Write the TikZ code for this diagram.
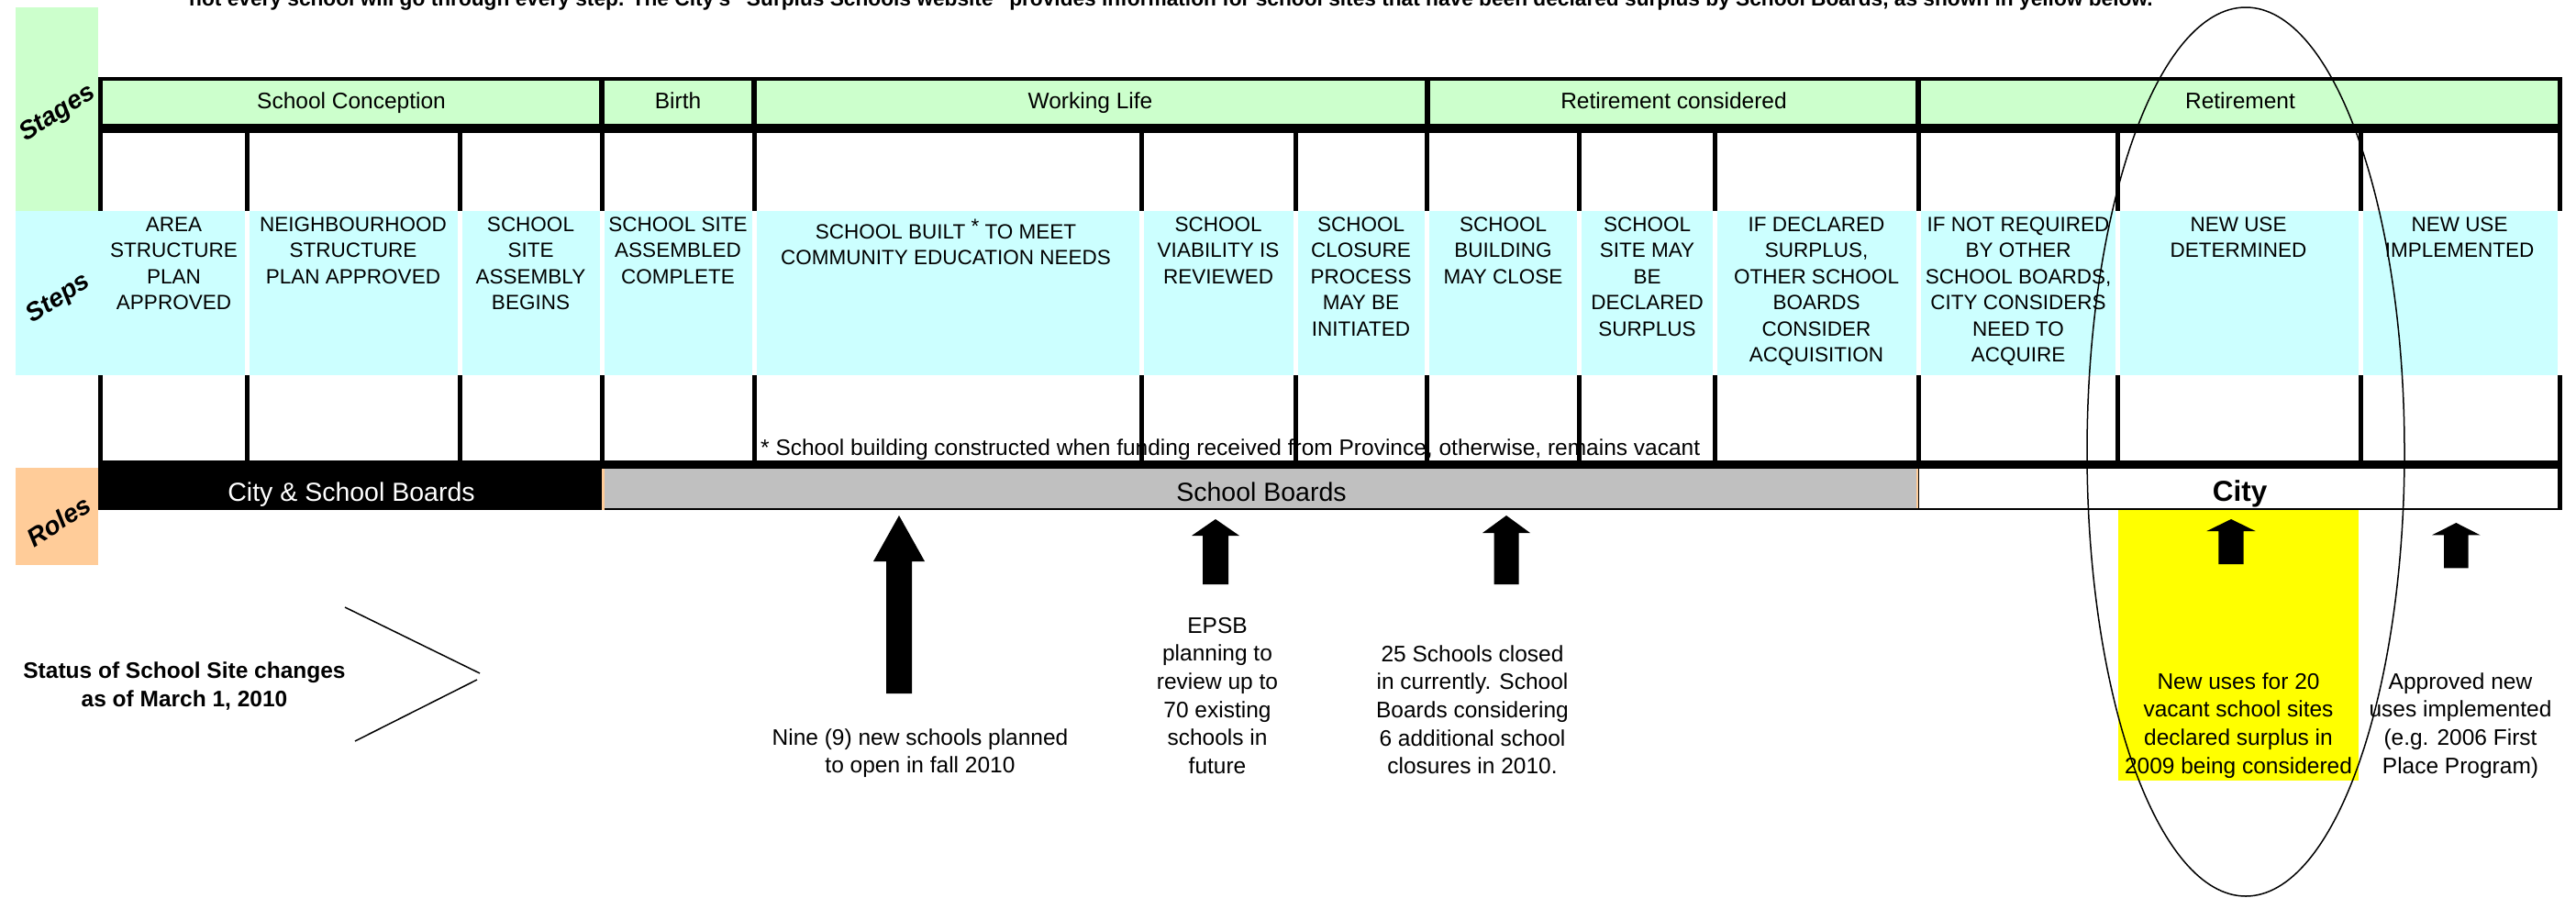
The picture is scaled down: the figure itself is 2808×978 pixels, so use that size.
\documentclass[tikz,border=0pt]{standalone}
\usepackage{fontspec}
\setmainfont{Liberation Sans}
\definecolor{stagegreen}{HTML}{CCFFCC}
\definecolor{stepcyan}{HTML}{CCFFFF}
\definecolor{rolepeach}{HTML}{FFCC99}
\definecolor{rolegrey}{HTML}{C0C0C0}
\definecolor{hiyellow}{HTML}{FFFF00}
\newcommand{\fsz}[2]{\fontsize{#1}{#2}\selectfont}
\newcommand{\blockup}[6]{%
  \fill[black] (#1,#2) -- (#1+#5,#3) -- (#1+#6,#3) -- (#1+#6,#4)
    -- (#1-#6,#4) -- (#1-#6,#3) -- (#1-#5,#3) -- cycle;}
\newcommand{\strt}{\rule{0pt}{20pt}}
\begin{document}
\begin{tikzpicture}[x=1pt,y=-1pt,
  blk/.style={fill=black,draw=none},
  stagetext/.style={font={\fsz{24.5}{29}}, inner sep=0pt, anchor=base},
  steptext/.style={font={\fsz{22.5}{28.5}}, align=center, anchor=north, inner sep=0pt},
  roletext/.style={font={\fsz{28.5}{32}}, inner sep=0pt, anchor=base},
  notetext/.style={font={\fsz{24.5}{30.6}}, align=center, anchor=north, inner sep=0pt},
  sidelabel/.style={font={\fsz{28}{32}\bfseries\itshape}, rotate=33, inner sep=0pt},
  thinline/.style={line width=1.5pt, black},
]
\useasboundingbox (0,0) rectangle (2808,978);
\fill[white] (0,0) rectangle (2808,978);

% intro line (cut off at top)
\node[anchor=base west, inner sep=0pt] (intro) at (206,6.5)
  {\resizebox{2140pt}{!}{\bfseries not every school will go through every step.  The City's "Surplus Schools website" provides information for school sites that have been declared surplus by School Boards, as shown in yellow below.}};

% side label boxes and bands
\fill[stagegreen] (17,8) rectangle (107,230);
\fill[stepcyan] (17,230) rectangle (2787.5,409);
\fill[rolepeach] (17,510) rectangle (107,616);
\fill[stagegreen] (112,87.5) rectangle (2787.5,135);

% white gaps between step cells
\foreach \c in {269,501,656,822,1244,1412,1555.5,1721.5,1869.5,2091,2308,2573}
  \fill[white] (\c-2.5,230) rectangle (\c+2.5,409);

% footnote (under the dividers)
\node[anchor=base west, inner sep=0pt, font={\fsz{24.5}{29}}] (fnote) at (829,496)
  {* School building constructed when funding received from Province, otherwise, remains vacant};

% table frame
\fill[blk] (107,83.5) rectangle (2792.5,87.5);
\fill[blk] (107,135) rectangle (2792.5,145);
\fill[blk] (107,502) rectangle (2792.5,510.5);
\fill[blk] (107,83.5) rectangle (112,230);
\fill[blk] (107,409) rectangle (112,510);
\fill[blk] (2787.5,83.5) rectangle (2792.5,230);
\fill[blk] (2787.5,409) rectangle (2792.5,556);
\foreach \c in {656,822,1555.5,2091}
  \fill[blk] (\c-3,84) rectangle (\c+3,145);
\foreach \c in {269,501,656,822,1244,1412,1555.5,1721.5,1869.5,2091,2308,2573}{
  \fill[blk] (\c-2.5,145) rectangle (\c+2.5,230);
  \fill[blk] (\c-2.5,409) rectangle (\c+2.5,502);
}

% roles row
\fill[black] (107,510) rectangle (655.5,556);
\fill[rolepeach] (655.5,510.5) rectangle (658.5,556);
\fill[rolegrey] (658.5,510.5) rectangle (2088.5,554);
\fill[rolepeach] (2088.5,510.5) rectangle (2090.5,556);
\fill[black] (2090.5,510.5) rectangle (2092,556);
\fill[black] (658.5,554) rectangle (2792.5,556);

% yellow highlight
\fill[hiyellow] (2309,556) rectangle (2571,851);

% side labels
\node[sidelabel] (lblstages) at (63,124) {Stages};
\node[sidelabel] (lblsteps) at (64,326) {Steps};
\node[sidelabel] (lblroles) at (64,568) {Roles};

% stages
\node[stagetext] (stconc) at (383,118.5) {School Conception};
\node[stagetext] (stbirth) at (739,118.5) {Birth};
\node[stagetext] (stwork) at (1188.5,118.5) {Working Life};
\node[stagetext] (stretc) at (1824.5,118.5) {Retirement considered};
\node[stagetext] (stret) at (2442,118.5) {Retirement};

% steps
\node[steptext] (s1) at (189.5,232) {\strt AREA\\STRUCTURE\\PLAN\\APPROVED};
\node[steptext] (s2) at (385,232) {\strt NEIGHBOURHOOD\\STRUCTURE\\PLAN APPROVED};
\node[steptext] (s3) at (578.5,232) {\strt SCHOOL\\SITE\\ASSEMBLY\\BEGINS};
\node[steptext] (s4) at (739,232) {\strt SCHOOL SITE\\ASSEMBLED\\COMPLETE};
\node[steptext] (s5) at (1031,238.5) {\strt SCHOOL BUILT \raisebox{6pt}{*} TO MEET\\COMMUNITY EDUCATION NEEDS};
\node[steptext] (s6) at (1328,232) {\strt SCHOOL\\VIABILITY IS\\REVIEWED};
\node[steptext] (s7) at (1483.5,232) {\strt SCHOOL\\CLOSURE\\PROCESS\\MAY BE\\INITIATED};
\node[steptext] (s8) at (1638.5,232) {\strt SCHOOL\\BUILDING\\MAY CLOSE};
\node[steptext] (s9) at (1795.5,232) {\strt SCHOOL\\SITE MAY\\BE\\DECLARED\\SURPLUS};
\node[steptext] (s10) at (1980,232) {\strt IF DECLARED\\SURPLUS,\\OTHER SCHOOL\\BOARDS\\CONSIDER\\ACQUISITION};
\node[steptext] (s11) at (2200,232) {\strt IF NOT REQUIRED\\BY OTHER\\SCHOOL BOARDS,\\CITY CONSIDERS\\NEED TO\\ACQUIRE};
\node[steptext] (s12) at (2440,232) {\strt NEW USE\\DETERMINED};
\node[steptext] (s13) at (2681,232) {\strt NEW USE\\IMPLEMENTED};

% roles
\node[roletext, text=white] (rcsb) at (383,546.5) {City \& School Boards};
\node[roletext] (rsb) at (1375,546.5) {School Boards};
\node[roletext, font={\fsz{31.5}{34}\bfseries}] (rcity) at (2441.5,546) {City};

% arrows
\blockup{980}{562}{612}{756}{28}{14}
\blockup{1325}{566}{584}{637}{26}{14}
\blockup{1642}{562}{581}{637}{26}{13.5}
\blockup{2432}{566}{579}{615}{26.6}{13.7}
\blockup{2677.3}{570}{583.3}{619.3}{26.2}{13.3}

% notes
\node[notetext, font={\fsz{24.5}{31}\bfseries}] (status) at (201,719) {\strt Status of School Site changes\\as of March 1, 2010};
\coordinate (chevA) at (376,662);
\coordinate (chevB) at (523,734);
\coordinate (chevC) at (520,741);
\coordinate (chevD) at (387,808);
\draw[thinline] (chevA) -- (chevB);
\draw[thinline] (chevC) -- (chevD);
\node[notetext] (n1) at (1003,792) {\strt Nine (9) new schools planned\\to open in fall 2010};
\node[notetext] (n2) at (1327,670) {\strt EPSB\\planning to\\review up to\\70 existing\\schools in\\future};
\node[notetext] (n3) at (1605,701) {\strt 25 Schools closed\\in currently. School\\Boards considering\\6 additional school\\closures in 2010.};
\node[notetext] (n4) at (2440,731) {\strt New uses for 20\\vacant school sites\\declared surplus in\\2009 being considered};
\node[notetext] (n5) at (2682,731) {\strt Approved new\\uses implemented\\(e.g. 2006 First\\Place Program)};

% ellipse
\draw[thinline] (2448,492.5) ellipse [x radius=173pt, y radius=484.5pt];
\end{tikzpicture}
\end{document}
